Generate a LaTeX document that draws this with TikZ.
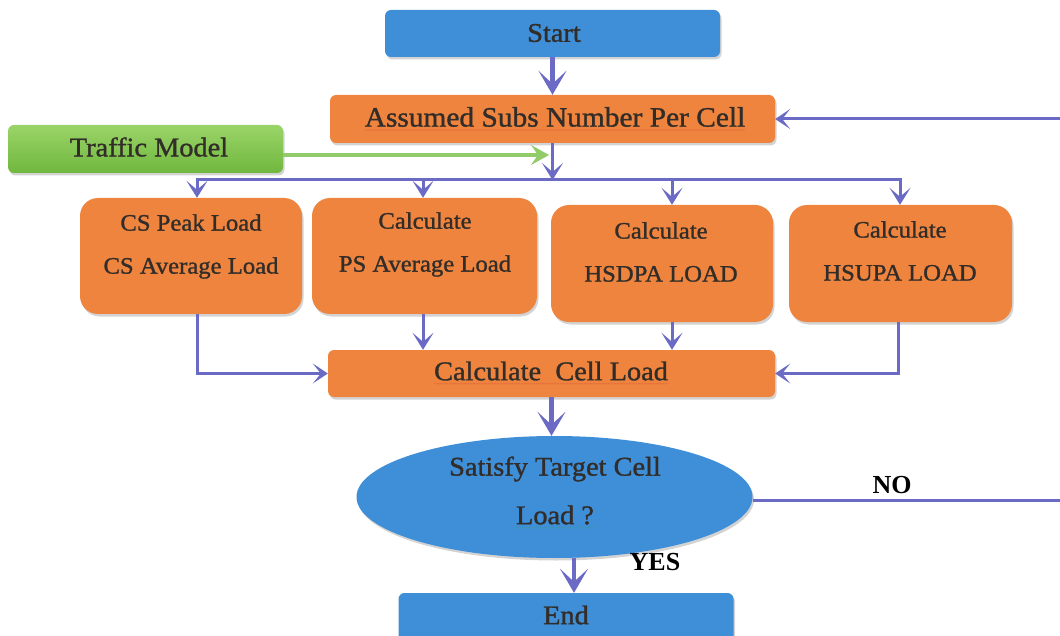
\documentclass[tikz,border=0pt]{standalone}
\usepackage{fontspec}
\setmainfont{Liberation Serif}
\newfontfamily\boxfont{Liberation Serif}[FakeBold=1.2, FakeStretch=1.05]
\usetikzlibrary{arrows.meta,shapes.geometric,shadows,calc,decorations.pathmorphing}
\definecolor{boxblue}{HTML}{3E8ED8}
\definecolor{boxorange}{HTML}{EE843E}
\definecolor{greentop}{HTML}{9AD468}
\definecolor{greenbot}{HTML}{70B73E}
\definecolor{flow}{HTML}{6B6BC6}
\definecolor{feed}{HTML}{92CB6A}
\definecolor{ink}{HTML}{322D29}
\definecolor{spellred}{HTML}{D9463A}
\definecolor{spellgreen}{HTML}{3DA55A}

\begin{document}
\begin{tikzpicture}[x=1pt,y=-1pt,
  shade/.style={drop shadow={shadow xshift=1.5pt,shadow yshift=-2.5pt,opacity=0.35}},
  flatbox/.style={shade, rounded corners=6pt, inner sep=0pt},
  bigbox/.style={shade, rounded corners=18pt, inner sep=0pt, fill=boxorange},
  bluebox/.style={flatbox, fill=boxblue},
  orangebox/.style={flatbox, fill=boxorange},
  greenbox/.style={flatbox, top color=greentop, bottom color=greenbot},
  decision/.style={shade, ellipse, fill=boxblue, inner sep=0pt},
  bigtxt/.style={font=\boxfont\fontsize{27}{32}\selectfont, text=ink, inner sep=0pt},
  smalltxt/.style={font=\boxfont\fontsize{23.5}{43}\selectfont, text=ink, align=center, inner sep=0pt},
  marktxt/.style={font=\bfseries\fontsize{26}{30}\selectfont, text=black, inner sep=0pt},
  squiggle/.style={line width=0.6pt, opacity=0.35, decorate, decoration={snake, amplitude=0.6pt, segment length=3pt}},
  flowline/.style={draw=flow, line width=3pt},
  bigtip/.style={flowline, line width=4.5pt, -{Stealth[length=24pt,width=28pt,inset=13pt]}},
  smalltip/.style={flowline, -{Stealth[length=17pt,width=21pt,inset=9pt]}},
  sidetip/.style={flowline, -{Stealth[length=15pt,width=20pt,inset=8pt]}},
  greentip/.style={draw=feed, line width=4.5pt, -{Stealth[length=18pt,width=20pt,inset=7pt]}}
]
\useasboundingbox (0,0) rectangle (1060,636);

% boxes
\node[bluebox, minimum width=335pt, minimum height=47pt] (start) at (552.5,33.5) {};
\node[orangebox, minimum width=445pt, minimum height=48pt] (assumed) at (552.5,119) {};
\node[greenbox, minimum width=275pt, minimum height=48pt] (traffic) at (145.5,149) {};
\node[bigbox, minimum width=222pt, minimum height=116pt] (cs) at (191,256) {};
\node[bigbox, minimum width=225pt, minimum height=116pt] (ps) at (424.5,256) {};
\node[bigbox, minimum width=222pt, minimum height=117pt] (hsdpa) at (662,263.5) {};
\node[bigbox, minimum width=223pt, minimum height=117pt] (hsupa) at (900.5,263.5) {};
\node[orangebox, minimum width=447pt, minimum height=47pt] (cell) at (551.5,373.5) {};
\node[decision, minimum width=396pt, minimum height=122pt] (sat) at (554.5,497) {};
\node[bluebox, minimum width=335pt, minimum height=50pt] (end) at (566,618) {};

% texts
\node[bigtxt] (start-t) at (554,33) {Start};
\node[bigtxt, font=\boxfont\fontsize{28}{32}\selectfont] (assumed-t) at (555,117) {Assumed Subs Number Per Cell};
\node[bigtxt] (traffic-t) at (149,147) {Traffic Model};
\node[smalltxt] (cs-t) at (191,246.5) {CS Peak Load\\CS Average Load};
\node[smalltxt] (ps-t) at (425,244.5) {Calculate\\PS Average Load};
\node[smalltxt] (hsdpa-t) at (661,252) {Calculate\\HSDPA LOAD};
\node[smalltxt] (hsupa-t) at (900,251) {Calculate\\HSUPA LOAD};
\node[bigtxt] (cell-t) at (551,371) {Calculate\ \ Cell Load};
\node[bigtxt] (sat-t1) at (555,469) {Satisfy Target Cell};
\node[bigtxt] (sat-t2) at (555,515) {Load ?};
\node[bigtxt] (end-t) at (566,615) {End};
\node[marktxt] (no) at (892,485) {NO};
\node[marktxt] (yes) at (655,562) {YES};

% spelling marks under some labels
\draw[squiggle, spellred] ([yshift=-3pt]assumed-t.south west) -- ([yshift=-3pt]assumed-t.south east);
\draw[squiggle, spellred] ([yshift=-3pt]cell-t.south west) -- ([yshift=-3pt]cell-t.south east);
\draw[squiggle, spellgreen] ([yshift=-3pt]sat-t2.south west) -- ([yshift=-3pt]sat-t2.south east);

% bus and branch points
\coordinate (busL) at (197,180);
\coordinate (busP) at (423,180);
\coordinate (busD) at (672,180);
\coordinate (busU) at (900,180);
\coordinate (greenEnd) at (549,155);
\coordinate (yesx) at (574,0);
\coordinate (loopx) at (1080,0);

% connectors
\draw[bigtip] (start.south) -- (assumed.north);
\draw[greentip] ([yshift=-6pt]traffic.east) -- (greenEnd);
\draw[smalltip] (assumed.south) -- (assumed.south |- busL);
\draw[flowline] ([xshift=-1.5pt]busL) -- ([xshift=1.5pt]busU);
\draw[smalltip] (busL) -- (busL |- cs.north);
\draw[smalltip] (busP) -- (busP |- ps.north);
\draw[smalltip] (busD) -- (busD |- hsdpa.north);
\draw[smalltip] (busU) -- (busU |- hsupa.north);

\draw[sidetip] (busL |- cs.south) |- (cell.west);
\draw[smalltip] (busP |- ps.south) -- (busP |- cell.north);
\draw[smalltip] (busD |- hsdpa.south) -- (busD |- cell.north);
\draw[sidetip] ([xshift=-2pt]busU |- hsupa.south) |- (cell.east);

\draw[bigtip] (cell.south) -- (cell.south |- sat.north);
\draw[bigtip] (yesx |- sat.south) -- (yesx |- end.north);
\draw[flowline, -{Stealth[length=15pt,width=20pt,inset=8pt]}] ([yshift=-3pt]sat.east) -- ([yshift=-3pt]loopx |- sat.east) |- (assumed.east);
\end{tikzpicture}
\end{document}
